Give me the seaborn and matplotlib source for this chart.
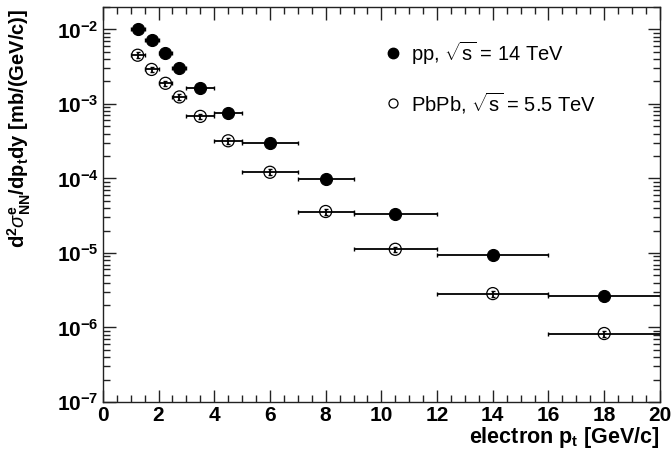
import numpy as np
import pandas as pd
import matplotlib
matplotlib.use("Agg")
import matplotlib.pyplot as plt
import matplotlib.ticker as mticker
import seaborn as sns

# bin centres / edges
pt = [1.25, 1.75, 2.25, 2.75, 3.5, 4.5, 6, 8, 10.5, 14, 18]
pt_lo = [1.0, 1.5, 2.0, 2.5, 3.0, 4.0, 5.0, 7.0, 9.0, 12.0, 16.0]
pt_hi = [1.5, 2.0, 2.5, 3.0, 4.0, 5.0, 7.0, 9.0, 12.0, 16.0, 20.0]

pp = [1.02e-2, 7.1e-3, 4.8e-3, 3.05e-3, 1.65e-3, 7.6e-4, 2.95e-4, 9.7e-5, 3.3e-5, 9.3e-6, 2.65e-6]
pp_err = [4e-4, 3e-4, 2e-4, 1.2e-4, 7e-5, 3e-5, 1.2e-5, 4e-6, 1.5e-6, 5e-7, 4e-7]
pbpb = [4.5e-3, 2.9e-3, 1.89e-3, 1.24e-3, 6.8e-4, 3.2e-4, 1.21e-4, 3.6e-5, 1.12e-5, 2.85e-6, 8.3e-7]
pbpb_err = [4e-4, 2.5e-4, 1.7e-4, 1.1e-4, 6e-5, 3e-5, 1.1e-5, 3.2e-6, 1e-6, 2.6e-7, 8e-8]

df = pd.DataFrame({"pt": pt, "lo": pt_lo, "hi": pt_hi, "pp": pp, "pp_err": pp_err,
                   "pbpb": pbpb, "pbpb_err": pbpb_err})
df["xl"] = df["pt"] - df["lo"]
df["xh"] = df["hi"] - df["pt"]

sns.set_style("ticks")
plt.rcParams["font.family"] = ["Liberation Sans", "DejaVu Sans"]
plt.rcParams["mathtext.fontset"] = "custom"
plt.rcParams["mathtext.rm"] = "Liberation Sans"
plt.rcParams["mathtext.bf"] = "Liberation Sans:bold"
plt.rcParams["mathtext.it"] = "Liberation Sans:italic"
plt.rcParams["text.color"] = "black"
plt.rcParams["axes.labelcolor"] = "black"
plt.rcParams["xtick.color"] = "black"
plt.rcParams["ytick.color"] = "black"

fig = plt.figure(figsize=(6.72, 4.51), dpi=100)
ax = fig.add_axes([0.153, 0.1086, 0.829, 0.876])

ax.errorbar(df["pt"], df["pp"], xerr=[df["xl"], df["xh"]], yerr=df["pp_err"],
            fmt="none", ecolor="black", elinewidth=1.3, capsize=1.5, capthick=1.0, zorder=2)
ax.errorbar(df["pt"], df["pbpb"], xerr=[df["xl"], df["xh"]], yerr=df["pbpb_err"],
            fmt="none", ecolor="black", elinewidth=1.3, capsize=1.5, capthick=1.0, zorder=2)
sns.scatterplot(data=df, x="pt", y="pp", ax=ax, marker="o", s=75, color="black",
                edgecolor="black", linewidth=0.8, zorder=3)
sns.scatterplot(data=df, x="pt", y="pbpb", ax=ax, marker="o", s=75, facecolor="none",
                edgecolor="black", linewidth=0.9, zorder=3)

ax.set_yscale("log")
ax.set_xlim(0, 20)
ax.set_ylim(1e-7, 2e-2)

ax.xaxis.set_major_locator(mticker.MultipleLocator(2))
ax.xaxis.set_minor_locator(mticker.MultipleLocator(0.5))
ax.yaxis.set_major_locator(mticker.LogLocator(base=10, numticks=10))
ax.yaxis.set_minor_locator(mticker.LogLocator(base=10, subs=np.arange(2, 10), numticks=10))
ax.yaxis.set_minor_formatter(mticker.NullFormatter())

def dec_fmt(v, pos):
    e = int(round(np.log10(v)))
    return "10$^{\\mathbf{%d}}$" % e

ax.yaxis.set_major_formatter(mticker.FuncFormatter(dec_fmt))

ax.tick_params(which="both", direction="in", top=True, right=True, width=1.0, color="#222222")
ax.tick_params(which="major", length=9, labelsize=15, pad=3, labelcolor="black")
ax.tick_params(which="minor", length=5)
for lab in ax.get_xticklabels() + ax.get_yticklabels():
    lab.set_fontweight("bold")
for sp in ax.spines.values():
    sp.set_linewidth(1.0)
    sp.set_color("#222222")

ax.set_xlabel("electron p$_{\\mathbf{t}}$ [GeV/c]", fontsize=15.5, fontweight="bold",
              loc="right", labelpad=0)
ax.set_ylabel("d$^{\\mathbf{2}}\\sigma^{\\mathbf{e}}_{\\mathbf{NN}}$/dp$_{\\mathbf{t}}$dy [mb/(GeV/c)]",
              fontsize=14.5, fontweight="bold", loc="top")
ax.yaxis.set_label_coords(-0.125, 0.995)

# legend
ax.plot([10.4], [4.8e-3], "o", color="black", markersize=7.5)
ax.plot([10.4], [1.03e-3], "o", mfc="none", mec="black", markersize=6.5, mew=0.9)
ax.text(11.05, 4.8e-3, "pp, $\\sqrt{\\rm s}$ = 14 TeV", fontsize=14.5, va="center")
ax.text(11.05, 1.03e-3, "PbPb, $\\sqrt{\\rm s}$ = 5.5 TeV", fontsize=14.5, va="center")

fig.savefig("out.png", dpi=100)
